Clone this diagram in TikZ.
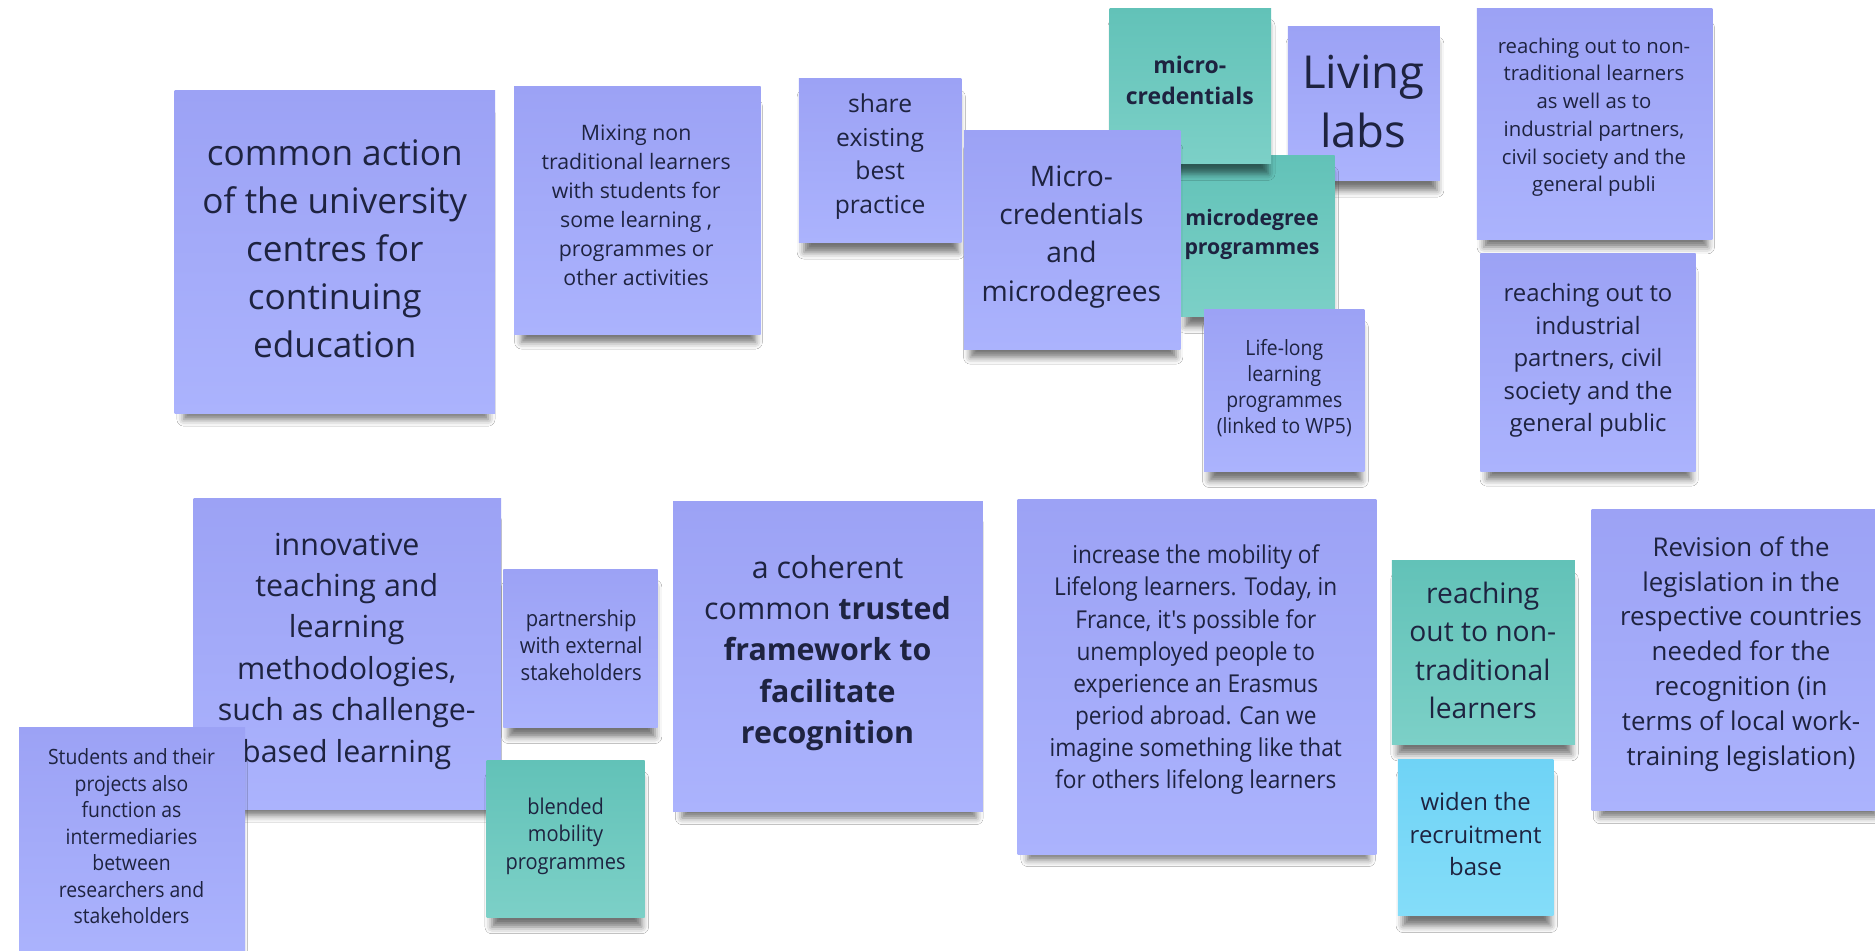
\documentclass[tikz,border=0pt]{standalone}
\usepackage{fontspec}
\newfontfamily\os{Open Sans}
\newfontfamily\osc[FakeStretch=0.92]{Open Sans}
\usetikzlibrary{shadows.blur}
\definecolor{ntop}{HTML}{9CA2F5}
\definecolor{nbot}{HTML}{ABB3FD}
\definecolor{ttop}{HTML}{62C2B8}
\definecolor{tbot}{HTML}{7CD0C7}
\definecolor{ctop}{HTML}{6FD3F6}
\definecolor{cbot}{HTML}{84DDF9}
\definecolor{ink}{HTML}{1E2340}
\begin{document}
\begin{tikzpicture}[x=0.5pt,y=-0.5pt,
  shd/.style={blur shadow={shadow xshift=0.5pt, shadow yshift=-6pt, shadow blur radius=3pt, shadow opacity=55, shadow scale=0.95}},
  vnote/.style={shd, top color=ntop, bottom color=nbot},
  tnote/.style={shd, top color=ttop, bottom color=tbot},
  cnote/.style={shd, top color=ctop, bottom color=cbot},
  txt/.style={align=center, inner sep=0pt, text=ink},
  f/.style n args={2}{font=\os\fontsize{#1}{#2}\selectfont},
  fb/.style n args={2}{font=\os\bfseries\fontsize{#1}{#2}\selectfont},
  fc/.style n args={2}{font=\osc\fontsize{#1}{#2}\selectfont}]
\useasboundingbox[fill=white] (0,0) rectangle (1568,795);

% ---------- top row ----------
\path[vnote] (146,76) rectangle (414,346);
\node[txt,f={14.7}{20}] (t1) at (280,208) {common action\\of the university\\centres for\\continuing\\education};

\path[vnote] (430,72) rectangle (636,280);
\node[txt,f={8.9}{12.1}] (t2) at (532,171.5) {Mixing non\\traditional learners\\with students for\\some learning ,\\programmes or\\other activities};

\path[vnote] (668,66) rectangle (804,203);
\node[txt,f={10.3}{14}] (t3) at (736,131) {share\\existing\\best\\practice};

\path[vnote] (1077,22) rectangle (1204,151);
\node[txt,f={19}{25}] (t5) at (1140,85) {Living\\labs};

\path[tnote] (987,130) rectangle (1116,265);
\node[txt,fb={8.9}{12}] (t7) at (1047,196) {microdegree\\programmes};

\path[tnote] (928,7) rectangle (1063,137);
\node[txt,fb={9.6}{13}] (t4) at (995,67) {micro-\\credentials};

\path[vnote] (806,109) rectangle (987,292);
\node[txt,f={11.8}{16}] (t6) at (896,198) {Micro-\\credentials\\and\\microdegrees};

\path[vnote] (1007,259) rectangle (1141,394);
\node[txt,fc={8.8}{10.9}] (t8) at (1074,324.5) {Life-long\\learning\\programmes\\(linked to WP5)};

\path[vnote] (1235,7) rectangle (1432,200);
\node[txt,f={8.5}{11.6}] (t9) at (1333,98) {reaching out to non-\\traditional learners\\as well as to\\industrial partners,\\civil society and the\\general publi};

\path[vnote] (1238,212) rectangle (1418,394);
\node[txt,f={10}{13.6}] (t10) at (1328,301.5) {reaching out to\\industrial\\partners, civil\\society and the\\general public};

% ---------- bottom row ----------
\path[vnote] (162,417) rectangle (419,677);
\node[txt,f={12.7}{17.3}] (t11) at (290,544.5) {innovative\\teaching and\\learning\\methodologies,\\such as challenge-\\based learning};

\path[vnote] (16,608) rectangle (205,800);
\node[txt,fc={8.8}{11.1}] (t12) at (110,699.5) {Students and their\\projects also\\function as\\intermediaries\\between\\researchers and\\stakeholders};

\path[vnote] (421,476) rectangle (550,608);
\node[txt,fc={9.2}{11.2}] (t13) at (486,539.5) {partnership\\with external\\stakeholders};

\path[tnote] (407,636) rectangle (539,767);
\node[txt,fc={9.1}{11.5}] (t14) at (473,699) {blended\\mobility\\programmes};

\path[vnote] (563,419) rectangle (822,679);
\node[txt,f={12.7}{17.25}] (t15) at (692,546) {a coherent\\common \textbf{trusted}\\\textbf{framework to}\\\textbf{facilitate}\\\textbf{recognition}};

\path[vnote] (851,418) rectangle (1151,715);
\node[txt,fc={10.3}{13.4}] (t16) at (1000,560) {increase the mobility of\\Lifelong learners. Today, in\\France, it's possible for\\unemployed people to\\experience an Erasmus\\period abroad. Can we\\imagine something like that\\for others lifelong learners};

\path[tnote] (1164,469) rectangle (1317,623);
\node[txt,f={11.8}{16}] (t17) at (1240,544) {reaching\\out to non-\\traditional\\learners};

\path[cnote] (1169,635) rectangle (1299,766);
\node[txt,f={10}{13.75}] (t18) at (1234,697.5) {widen the\\recruitment\\base};

\path[vnote] (1331,426) rectangle (1575,678);
\node[txt,f={10.8}{14.6}] (t19) at (1456,547) {Revision of the\\legislation in the\\respective countries\\needed for the\\recognition (in\\terms of local work-\\training legislation)};
\end{tikzpicture}
\end{document}
